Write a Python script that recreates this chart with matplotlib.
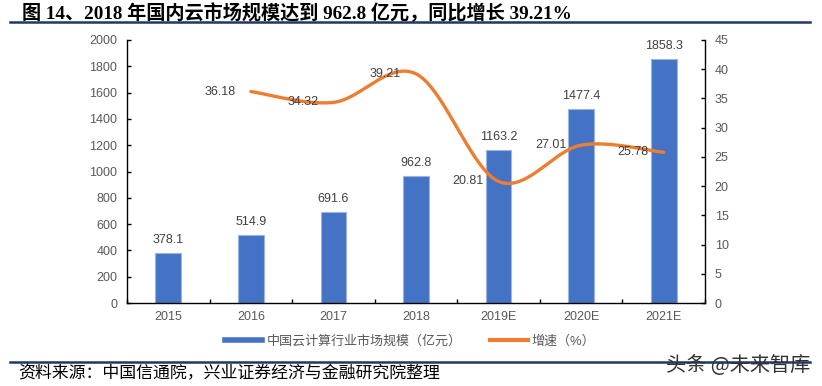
import numpy as np
import matplotlib
matplotlib.use("Agg")
import matplotlib.pyplot as plt
from matplotlib.lines import Line2D

plt.rcParams['font.family'] = ['Liberation Sans', 'Noto Sans CJK SC', 'DejaVu Sans']

categories = ["2015", "2016", "2017", "2018", "2019E", "2020E", "2021E"]
market_size = [378.1, 514.9, 691.6, 962.8, 1163.2, 1477.4, 1858.3]
growth_cats = ["2016", "2017", "2018", "2019E", "2020E", "2021E"]
growth = [36.18, 34.32, 39.21, 20.81, 27.01, 25.78]

title = "图 14、2018 年国内云市场规模达到 962.8 亿元，同比增长 39.21%"
source = "资料来源：中国信通院，兴业证券经济与金融研究院整理"
legend_labels = ["中国云计算行业市场规模（亿元）", "增速（%）"]
watermark = "头条 @未来智库"

BLUE = "#4472C4"
ORANGE = "#ED7D31"
TXT = "#595959"

W, H = 822, 386
fig = plt.figure(figsize=(W / 100, H / 100), dpi=100)
ax = fig.add_axes([127 / W, 1 - 303 / H, (705 - 127) / W, (303 - 40) / H])
ax2 = ax.twinx()

x = np.arange(len(categories))
bars = ax.bar(x, market_size, width=0.31, color=BLUE, edgecolor="#9DB5E3", linewidth=0.8, zorder=2)
for xi, v in zip(x, market_size):
    ax.annotate(f"{v}", (xi, v), xytext=(0, 5), textcoords="offset points",
                ha="center", va="bottom", fontsize=9, color="#404040")

ax.set_xlim(-0.5, len(categories) - 0.5)
ax.set_ylim(0, 2000)
ax.set_yticks(np.arange(0, 2001, 200))
ax2.set_ylim(0, 45)
ax2.set_yticks(np.arange(0, 46, 5))

# smooth (Excel-like) curve through growth points
gx = np.array([categories.index(c) for c in growth_cats], dtype=float)
gy = np.array(growth, dtype=float)
pts = np.column_stack([gx, gy])
curve = []
n = len(pts)
t = np.linspace(0, 1, 40)
for i in range(n - 1):
    p0 = pts[i]
    p3 = pts[i + 1]
    pm = pts[i - 1] if i > 0 else pts[i]
    pp = pts[i + 2] if i + 2 < n else pts[i + 1]
    c1 = p0 + (p3 - pm) / 6.0
    c2 = p3 - (pp - p0) / 6.0
    seg = ((1 - t) ** 3)[:, None] * p0 + (3 * (1 - t) ** 2 * t)[:, None] * c1 + \
          (3 * (1 - t) * t ** 2)[:, None] * c2 + (t ** 3)[:, None] * p3
    curve.append(seg if i == 0 else seg[1:])
curve = np.vstack(curve)
ax2.plot(curve[:, 0], curve[:, 1], color=ORANGE, lw=2.4, solid_capstyle="round", zorder=3)
for xi, v in zip(gx, gy):
    ax2.annotate(f"{v:.2f}", (xi, v), xytext=(-22, 0), textcoords="offset points",
                 ha="center", va="center", fontsize=9, color="#404040")

for a in (ax, ax2):
    a.spines["top"].set_visible(False)
    for s in ("left", "right", "bottom"):
        a.spines[s].set_color("black")
        a.spines[s].set_linewidth(1.0)
ax.spines["right"].set_visible(False)
ax2.spines["left"].set_visible(False)
ax2.spines["bottom"].set_visible(False)

ax.tick_params(axis="y", direction="in", length=3, width=1, colors="black",
               labelcolor=TXT, labelsize=9, pad=7)
ax2.tick_params(axis="y", direction="in", length=3, width=1, colors="black",
                labelcolor=TXT, labelsize=9, pad=7)
ax.set_xticks(np.arange(-0.5, len(categories), 1.0))
ax.set_xticklabels([])
ax.set_xticks(x, minor=True)
ax.set_xticklabels(categories, minor=True)
ax.tick_params(axis="x", which="major", direction="in", length=3, width=1, colors="black")
ax.tick_params(axis="x", which="minor", length=0, labelcolor=TXT, labelsize=9, pad=6)

# legend
handles = [Line2D([], [], color=BLUE, lw=4), Line2D([], [], color=ORANGE, lw=3)]
fig.legend(handles, legend_labels, loc="center", bbox_to_anchor=(410 / W, 1 - 341 / H),
           ncol=2, frameon=False, fontsize=9.4, labelcolor=TXT, handlelength=2.9,
           handletextpad=0.3, columnspacing=2.2)

# title and rules
fig.text(22 / W, 1 - 13 / H, title, fontsize=13.8, fontweight="bold",
         family=["Liberation Serif", "Noto Sans CJK SC"], ha="left", va="center", color="black")
fig.add_artist(Line2D([10 / W, 810 / W], [1 - 22 / H] * 2, color="#1F3864", lw=1.8))
fig.add_artist(Line2D([10 / W, 810 / W], [1 - 362 / H] * 2, color="#1F3864", lw=1.8))
fig.text(18 / W, 1 - 373 / H, source, fontsize=12.2, family=["Noto Sans CJK SC"],
         ha="left", va="center", color="black")
fig.text(810 / W, 1 - 365 / H, watermark, fontsize=14.5, family=["Noto Sans CJK SC"],
         ha="right", va="center", color="#333333")

fig.savefig("out.png", dpi=100)
